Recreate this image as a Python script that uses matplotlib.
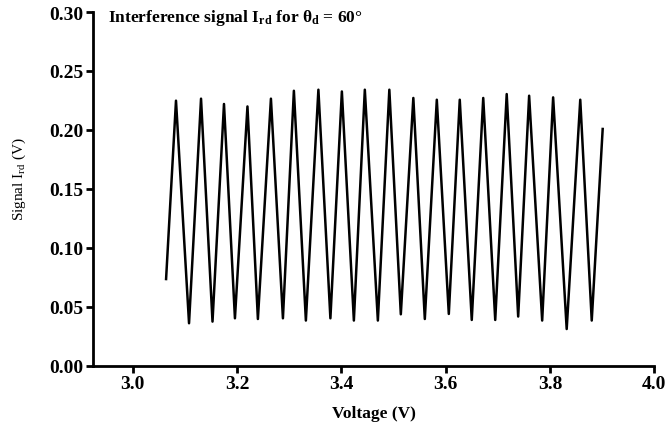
import numpy as np
import matplotlib
matplotlib.use('Agg')
import matplotlib.pyplot as plt

plt.rcParams['font.family'] = ['Liberation Serif', 'DejaVu Serif']
plt.rcParams['font.weight'] = 'bold'
plt.rcParams['mathtext.default'] = 'regular'

# Extrema (voltage in V, signal in V)
peak_v = [3.083, 3.131, 3.175, 3.220, 3.265, 3.309, 3.356, 3.401, 3.445,
          3.492, 3.538, 3.583, 3.627, 3.672, 3.717, 3.760, 3.806, 3.858]
peak_s = [0.2248, 0.2265, 0.2220, 0.2199, 0.2265, 0.2332, 0.2341, 0.2326, 0.2341,
          0.2341, 0.2271, 0.2256, 0.2256, 0.2271, 0.2304, 0.2290, 0.2276, 0.2256]
trough_v = [3.108, 3.153, 3.196, 3.240, 3.288, 3.332, 3.379, 3.424, 3.470,
            3.514, 3.560, 3.606, 3.650, 3.695, 3.739, 3.785, 3.832, 3.880]
trough_s = [0.0360, 0.0374, 0.0402, 0.0396, 0.0402, 0.0383, 0.0402, 0.0383, 0.0383,
            0.0436, 0.0396, 0.0439, 0.0388, 0.0388, 0.0417, 0.0383, 0.0311, 0.0383]
start_v, start_s = 3.064, 0.0735
end_v, end_s = 3.901, 0.2008

# merge into one trace ordered by voltage
v = np.array([start_v] + peak_v + trough_v + [end_v])
s = np.array([start_s] + peak_s + trough_s + [end_s])
order = np.argsort(v)
v, s = v[order], s[order]

fig = plt.figure(figsize=(6.67, 4.31), dpi=100)
ax = fig.add_axes([0.1399, 0.1492, 0.981 - 0.1399, 0.9698 - 0.1492])

ax.plot(v, s, color='black', linewidth=1.8)

ax.set_xlim(2.9245, 4.0)
ax.set_ylim(0, 0.30)
ax.set_xticks([3.0, 3.2, 3.4, 3.6, 3.8, 4.0])
ax.set_yticks([0.00, 0.05, 0.10, 0.15, 0.20, 0.25, 0.30])
ax.set_yticklabels(['0.00', '0.05', '0.10', '0.15', '0.20', '0.25', '0.30'])

for side in ['top', 'right']:
    ax.spines[side].set_visible(False)
for side in ['left', 'bottom']:
    ax.spines[side].set_linewidth(2)
ax.tick_params(direction='out', length=5, width=2, labelsize=14, pad=2)

ax.set_xlabel('Voltage (V)', fontsize=12.5, fontweight='bold', labelpad=9)
ax.set_ylabel(r'Signal $I_{rd}$ (V)', fontsize=11, fontweight='normal')
ax.yaxis.set_label_coords(-0.117, 0.53)

ax.text(0.027, 0.987, r'Interference signal $I_{rd}$ for $\theta_d$ = 60°',
        transform=ax.transAxes, fontsize=12.5, fontweight='bold', va='center', ha='left')

fig.savefig('out.png', dpi=100)
